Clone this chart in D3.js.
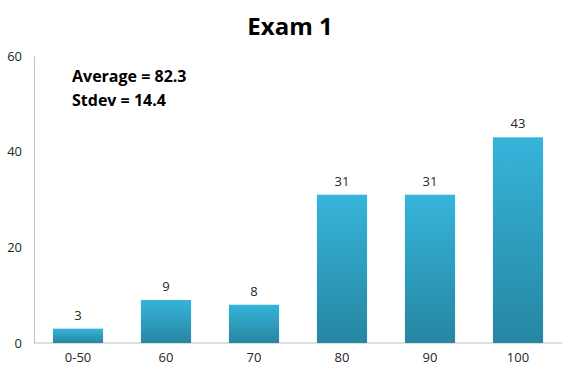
<!DOCTYPE html>
<html><head><meta charset="utf-8">
<script src="https://cdn.jsdelivr.net/npm/d3@7"></script>
<style>body{margin:0;background:#fff}svg{display:block}text{font-family:"Open Sans","Liberation Sans",sans-serif}</style>
</head><body><svg id="c" width="577" height="377"></svg>
<script>
const categories = ["0-50","60","70","80","90","100"];
const counts = [3,9,8,31,31,43];
const yTicks = [0,20,40,60];
const title = "Exam 1";
const notes = ["Average = 82.3","Stdev = 14.4"];

const svg = d3.select("#c");
const m = {l:34, r:15, t:56, b:34};
const W = 577, H = 377;
const x = d3.scaleBand().domain(categories).range([m.l, W-m.r]).paddingInner(0.43).paddingOuter(0.215);
const y = d3.scaleLinear().domain([0,60]).range([343, 56]);

const defs = svg.append("defs");
const g = defs.append("linearGradient").attr("id","bg").attr("x1",0).attr("y1",0).attr("x2",0).attr("y2",1);
g.append("stop").attr("offset","0%").attr("stop-color","#36b4da");
g.append("stop").attr("offset","100%").attr("stop-color","#2686a1");

svg.append("text").attr("x",290).attr("y",35).attr("text-anchor","middle")
  .attr("font-size",24).attr("font-weight","bold").attr("fill","#000").text(title);

// axes
const ya = d3.axisLeft(y).tickValues(yTicks).tickSize(0).tickPadding(12);
const yg = svg.append("g").attr("transform",`translate(${m.l},0)`).call(ya);
yg.select(".domain").attr("stroke","#bfbfbf");
yg.selectAll("text").attr("font-size",13).attr("fill","#262626").style("font-family","'Open Sans','Liberation Sans',sans-serif");

const xa = d3.axisBottom(x).tickSize(0).tickPadding(10);
const xg = svg.append("g").attr("transform",`translate(0,${y(0)})`).call(xa);
xg.select(".domain").attr("stroke","#bfbfbf").attr("d",`M${m.l},0H${W-m.r}`);
xg.selectAll("text").attr("font-size",13).attr("fill","#262626").style("font-family","'Open Sans','Liberation Sans',sans-serif");

svg.append("g").selectAll("rect").data(counts).join("rect")
  .attr("x",(d,i)=>x(categories[i])).attr("width",x.bandwidth())
  .attr("y",d=>y(d)).attr("height",d=>y(0)-y(d)).attr("fill","url(#bg)");

svg.append("g").selectAll("text").data(counts).join("text")
  .attr("x",(d,i)=>x(categories[i])+x.bandwidth()/2).attr("y",d=>y(d)-9)
  .attr("text-anchor","middle").attr("font-size",13).attr("fill","#262626").text(d=>d);

svg.append("g").selectAll("text").data(notes).join("text")
  .attr("x",72).attr("y",(d,i)=>82+i*24).attr("font-size",16).attr("font-weight","bold")
  .attr("fill","#000").text(d=>d);
</script></body></html>
